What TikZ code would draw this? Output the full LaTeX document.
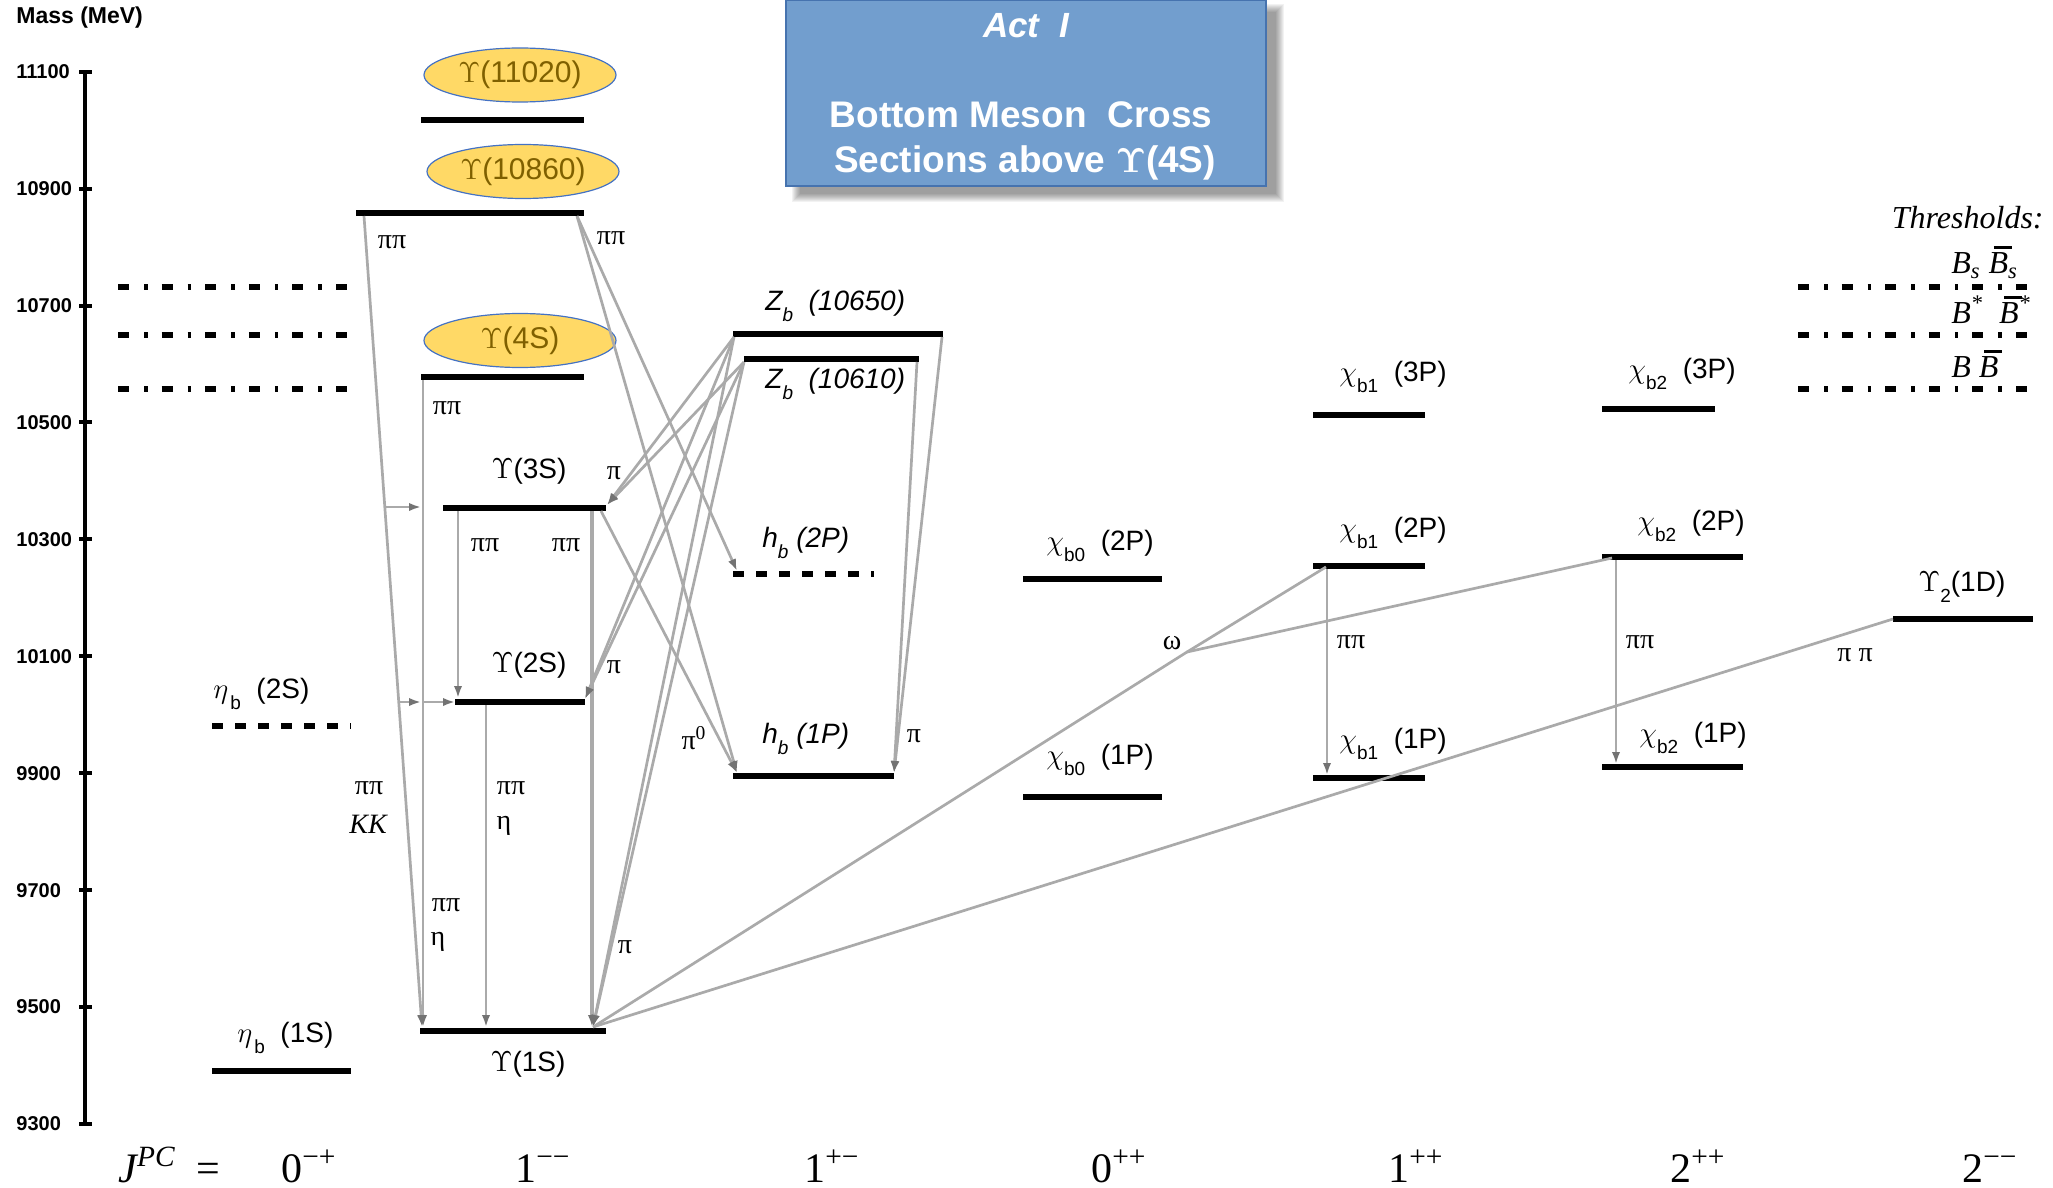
\documentclass[tikz,border=0pt]{standalone}
\usepackage[no-math]{fontspec}
\setmainfont{Liberation Sans}
\newfontfamily\tnr{Liberation Serif}
\usetikzlibrary{arrows.meta,shapes.geometric}

\definecolor{trans}{RGB}{170,170,170}
\definecolor{tipc}{RGB}{115,115,115}
\definecolor{ellfill}{RGB}{255,217,102}
\definecolor{ellline}{RGB}{68,114,196}
\definecolor{elltext}{RGB}{127,96,0}
\definecolor{boxfill}{RGB}{114,158,206}
\definecolor{boxline}{RGB}{70,115,175}

% lowered subscript used in state names
\newcommand\lowsub[1]{\raisebox{-0.42em}{\fontsize{9.5}{10}\selectfont #1}}
% B with a heavy bar (antiparticle)
\newcommand\barB{\makebox[0pt][l]{\hspace{0.16em}\rule[0.74em]{0.56em}{0.1em}}B}

\begin{document}
\begin{tikzpicture}[x=0.5pt,y=-0.5pt,
  lvl/.style={line width=3.25pt},
  lvldash/.style={line width=3.25pt,dash pattern=on 5.5pt off 6pt},
  thr/.style={line width=3.25pt,dash pattern=on 5.5pt off 7.5pt on 1.8pt off 7pt},
  tr/.style={draw=trans,line width=1.35pt},
  tra/.style={tr,-{Latex[length=6pt,width=4.2pt,color=tipc]}},
  lab/.style={inner sep=0pt,anchor=base west,font=\fontsize{14}{16}\selectfont},
  labc/.style={lab,anchor=base},
  decay/.style={inner sep=0pt,font=\tnr\fontsize{14}{16}\selectfont},
  ax/.style={inner sep=0pt,anchor=west,font=\bfseries\fontsize{10}{12}\selectfont},
  jpc/.style={inner sep=0pt,anchor=base west,font=\tnr\fontsize{21}{24}\selectfont},
  thl/.style={inner sep=0pt,font=\tnr\itshape\fontsize{16}{18}\selectfont},
  res/.style={ellipse,draw=ellline,line width=0.6pt,fill=ellfill,minimum width=96pt,
    minimum height=27pt,inner sep=0pt,text=elltext,font=\fontsize{15}{16}\selectfont},
  ttl/.style={inner sep=0pt,anchor=base,text=white}]
\useasboundingbox (0,0) rectangle (2053,1188);

% ---------- mass axis ----------
\node[inner sep=0pt,anchor=west,font=\bfseries\fontsize{11.5}{13}\selectfont] (masslab) at (16,18) {Mass (MeV)};
\coordinate (axtop) at (85,71.7);
\coordinate (axbot) at (85,1124);
\draw[line width=2pt] (axtop) -- (axbot);
\foreach \m in {9300,9500,...,11100} {
  \pgfmathsetmacro\yy{1124-(\m-9300)*0.58461}
  \coordinate (tk\m a) at (79,\yy);
  \coordinate (tk\m b) at (92,\yy);
  \draw[line width=2pt] (tk\m a) -- (tk\m b);
  \node[ax] (tick\m) at (16,\yy) {\m};
}

% ---------- title panel ----------
\foreach \k in {0,...,8}
  \fill[black,opacity=0.05] (800-\k,12-\k) rectangle (1276+\k,194+\k);
\node[draw=boxline,fill=boxfill,line width=0.6pt,minimum width=240pt,minimum height=93pt,inner sep=0pt] (titlebox) at (1026,93) {};
\node[ttl,font=\bfseries\itshape\fontsize{17.5}{20}\selectfont] (act) at (1026,38) {Act\ \ I};
\node[ttl,font=\bfseries\fontsize{18.5}{22}\selectfont] (tline1) at (1021,128) {Bottom Meson\ \ Cross};
\node[ttl,font=\bfseries\fontsize{18.5}{22}\selectfont] (tline2) at (1025,173) {Sections above $\mathbf{\Upsilon}$(4S)};

% ---------- thresholds ----------
\foreach \n/\y in {bsbs/287,bstar/335,bb/389} {
  \coordinate (thL\n a) at (118,\y); \coordinate (thL\n b) at (351,\y);
  \coordinate (thR\n a) at (1798,\y); \coordinate (thR\n b) at (2034,\y);
  \draw[thr] (thL\n a) -- (thL\n b);
  \draw[thr] (thR\n a) -- (thR\n b);
}
\node[thl,anchor=base east] (thrtitle) at (2044,228) {Thresholds:};
\node[thl,anchor=base west] (thbsbs) at (1951,273) {B\textsubscript{s}\ \barB\textsubscript{s}};
\node[thl,anchor=base west] (thbstar) at (1951,323) {B\textsuperscript{*}\ \ \barB\textsuperscript{*}};
\node[thl,anchor=base west] (thbb) at (1951,377) {B\ \barB};

% ---------- levels ----------
\foreach \n/\xa/\xb/\y in {U6/421/584/120, U5/356/584/213, U4/421/584/377, U3/443/606/508,
  U2/455/585/702, U1/420/606/1031, etab1/212/351/1071, Zb650/733/943/334, Zb610/744/919/359,
  hb1/733/894/776, chib02/1023/1162/579, chib01/1023/1162/797, chib13/1313/1425/415,
  chib12/1313/1425/566, chib11/1313/1425/778, chib23/1602/1715/409, chib22/1602/1743/557,
  chib21/1602/1743/767, U21D/1893/2033/619} {
  \coordinate (\n a) at (\xa,\y); \coordinate (\n b) at (\xb,\y);
  \draw[lvl] (\n a) -- (\n b);
}
\foreach \n/\xa/\xb/\y in {etab2/212/351/726, hb2/733/874/574} {
  \coordinate (\n a) at (\xa,\y); \coordinate (\n b) at (\xb,\y);
  \draw[lvldash] (\n a) -- (\n b);
}

% ---------- resonances above open bottom ----------
\node[res] (e11020) at (520,75) {$\Upsilon$(11020)};
\node[res] (e10860) at (523,171.5) {$\Upsilon$(10860)};
\node[res] (e4S) at (520,340.5) {$\Upsilon$(4S)};

% ---------- transition end points ----------
\coordinate (p5L) at (364,216);   \coordinate (p1L) at (422,1027);
\coordinate (p4L) at (423,380);   \coordinate (p1M) at (423,1027);
\coordinate (s3) at (385,507);    \coordinate (v3) at (421,507);
\coordinate (s2) at (399,702);    \coordinate (v2) at (421,702);
\coordinate (v2b) at (423,702);   \coordinate (p2L) at (455,702);
\coordinate (p3L) at (458,511);   \coordinate (p2Lt) at (458,698);
\coordinate (p2M) at (486,705);   \coordinate (p1N) at (486,1027);
\coordinate (p3R) at (592,511);   \coordinate (p1R) at (592,1027);
\coordinate (p5R) at (577,216);   \coordinate (h2L) at (737,571);
\coordinate (h1L) at (737,773);   \coordinate (p3Rb) at (601,511);
\coordinate (z6L) at (734,337);   \coordinate (z1L) at (744,362);
\coordinate (u3R) at (607,505);   \coordinate (u2R) at (585,699);
\coordinate (u1R) at (593,1027);
\coordinate (z6R) at (942,337);   \coordinate (z1R) at (917,362);
\coordinate (h1R) at (894,773);
\coordinate (omega) at (1187,652);
\coordinate (c12L) at (1326,567); \coordinate (c22L) at (1612,558);
\coordinate (d1L) at (1893,619);
\coordinate (c12v) at (1327,569); \coordinate (c11v) at (1327,775);
\coordinate (c22v) at (1616,560); \coordinate (c21v) at (1616,764);

% ---------- transitions ----------
\draw[tra] (p5L) -- (p1L);
\draw[tra] (p4L) -- (p1M);
\draw[tra] (s3) -- (v3);
\draw[tra] (s2) -- (v2);
\draw[tra] (v2b) -- (p2L);
\draw[tra] (p3L) -- (p2Lt);
\draw[tra] (p2M) -- (p1N);
\draw[tra,line width=2pt] (p3R) -- (p1R);
\draw[tra] (p5R) -- (h2L);
\draw[tra] (p5R) -- (h1L);
\draw[tra] (p3Rb) -- (h1L);
\foreach \z in {z6L,z1L} {
  \draw[tra] (\z) -- (u3R);
  \draw[tra] (\z) -- (u2R);
  \draw[tra] (\z) -- (u1R);
}
\draw[tra] (z6R) -- (h1R);
\draw[tra] (z1R) -- (h1R);
\draw[tr] (u1R) -- (omega) -- (c12L);
\draw[tr] (omega) -- (c22L);
\draw[tr] (u1R) -- (d1L);
\draw[tra] (c12v) -- (c11v);
\draw[tra] (c22v) -- (c21v);

% ---------- state labels ----------
\node[lab] (Letab2) at (213,698) {$\eta$\kern1pt\lowsub{b}\ \ (2S)};
\node[lab] (Letab1) at (237,1042) {$\eta$\kern1pt\lowsub{b}\ \ (1S)};
\node[labc] (LU3) at (529,478) {$\Upsilon$(3S)};
\node[labc] (LU2) at (529,672) {$\Upsilon$(2S)};
\node[labc] (LU1) at (528,1071) {$\Upsilon$(1S)};
\node[lab] (LZ6) at (765,310) {\itshape Z\lowsub{b}\ \ (10650)};
\node[lab] (LZ1) at (765,388) {\itshape Z\lowsub{b}\ \ (10610)};
\node[lab] (Lhb2) at (762,547) {\itshape h\lowsub{b}\ (2P)};
\node[lab] (Lhb1) at (762,743) {\itshape h\lowsub{b}\ (1P)};
\node[lab] (Lc02) at (1046,550) {$\chi$\lowsub{b0}\ \ (2P)};
\node[lab] (Lc01) at (1046,764) {$\chi$\lowsub{b0}\ \ (1P)};
\node[lab] (Lc13) at (1339,381) {$\chi$\lowsub{b1}\ \ (3P)};
\node[lab] (Lc12) at (1339,537) {$\chi$\lowsub{b1}\ \ (2P)};
\node[lab] (Lc11) at (1339,748) {$\chi$\lowsub{b1}\ \ (1P)};
\node[lab] (Lc23) at (1628,378) {$\chi$\lowsub{b2}\ \ (3P)};
\node[lab] (Lc22) at (1637,530) {$\chi$\lowsub{b2}\ \ (2P)};
\node[lab] (Lc21) at (1639,742) {$\chi$\lowsub{b2}\ \ (1P)};
\node[lab] (LD) at (1918,591) {$\Upsilon$\lowsub{2}(1D)};

% ---------- decay labels ----------
\node[decay] (d01) at (392,242) {ππ};
\node[decay] (d02) at (611,238) {ππ};
\node[decay] (d03) at (447,408) {ππ};
\node[decay] (d04) at (485,545) {ππ};
\node[decay] (d05) at (566,545) {ππ};
\node[decay] (d06) at (369,788) {ππ};
\node[decay] (d07) at (368,824) {\itshape KK};
\node[decay] (d08) at (511,788) {ππ};
\node[decay] (d09) at (504,826) {η};
\node[decay] (d10) at (446,905) {ππ};
\node[decay] (d11) at (438,942) {η};
\node[decay] (d12) at (614,473) {π};
\node[decay] (d13) at (614,667) {π};
\node[decay] (d14) at (625,947) {π};
\node[decay] (d15) at (694,738) {π\textsuperscript{0}};
\node[decay] (d16) at (914,736) {π};
\node[decay] (d17) at (1172,643) {ω};
\node[decay] (d18) at (1351,642) {ππ};
\node[decay] (d19) at (1640,642) {ππ};
\node[decay] (d20) at (1855,655) {π\ π};

% ---------- J^PC row ----------
\node[jpc] (jpcJ) at (118,1182) {\itshape J\textsuperscript{PC}\upshape\ \ =};
\node[jpc] (q0mp) at (281,1182) {0\textsuperscript{−+}};
\node[jpc] (q1mm) at (515,1182) {1\textsuperscript{−−}};
\node[jpc] (q1pm) at (804,1182) {1\textsuperscript{+−}};
\node[jpc] (q0pp) at (1091,1182) {0\textsuperscript{++}};
\node[jpc] (q1pp) at (1388,1182) {1\textsuperscript{++}};
\node[jpc] (q2pp) at (1670,1182) {2\textsuperscript{++}};
\node[jpc] (q2mm) at (1962,1182) {2\textsuperscript{−−}};
\end{tikzpicture}
\end{document}
